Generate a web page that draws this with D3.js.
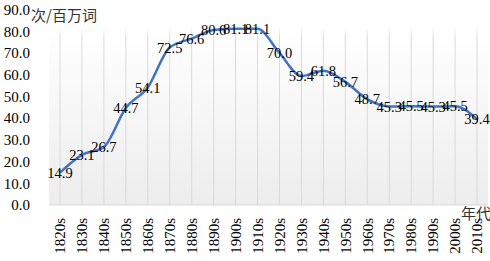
<!DOCTYPE html>
<html><head><meta charset="utf-8">
<script src="https://cdn.jsdelivr.net/npm/d3@7"></script>
<style>body{margin:0;background:#fff}svg{display:block}</style>
</head><body>
<svg id="c" width="490" height="261"></svg>
<script>
const categories = ["1820s","1830s","1840s","1850s","1860s","1870s","1880s","1890s","1900s","1910s","1920s","1930s","1940s","1950s","1960s","1970s","1980s","1990s","2000s","2010s"];
const values = [14.9,23.1,26.7,44.7,54.1,72.5,76.6,80.6,81.1,81.1,70.0,59.4,61.8,56.7,48.7,45.3,45.5,45.3,45.5,39.4];
const yTicks = [0,10,20,30,40,50,60,70,80,90];
const yUnit = "次/百万词";
const xUnit = "年代";

(function(){
const svg = d3.select("#c");
const pl = 49, pr = 488, pt = 9.5, pb = 205;
const x = d3.scaleBand().domain(categories).range([pl, pr]);
const y = d3.scaleLinear().domain([0, 90]).range([pb, pt]);
const serif = "'Liberation Serif','Times New Roman',serif";

const defs = svg.append("defs");
const g = defs.append("linearGradient").attr("id","bg").attr("gradientUnits","userSpaceOnUse")
  .attr("x1",0).attr("y1",y(90)).attr("x2",0).attr("y2",pb);
g.append("stop").attr("offset","0%").attr("stop-color","#ffffff");
g.append("stop").attr("offset","10%").attr("stop-color","#ffffff");
g.append("stop").attr("offset","100%").attr("stop-color","#ededed");
const gg = defs.append("linearGradient").attr("id","gl").attr("gradientUnits","userSpaceOnUse")
  .attr("x1",0).attr("y1",y(90)).attr("x2",0).attr("y2",pb);
gg.append("stop").attr("offset","0%").attr("stop-color","#ffffff");
gg.append("stop").attr("offset","9%").attr("stop-color","#ffffff");
gg.append("stop").attr("offset","14%").attr("stop-color","#dadada");
gg.append("stop").attr("offset","100%").attr("stop-color","#d9d9d9");

svg.append("rect").attr("x", pl).attr("y", y(90)).attr("width", pr-pl).attr("height", pb - y(90)).attr("fill","url(#bg)");

svg.append("g").selectAll("line").data(categories).join("line")
  .attr("x1", d => x(d) + x.bandwidth()/2).attr("x2", d => x(d) + x.bandwidth()/2)
  .attr("y1", y(90)).attr("y2", pb)
  .attr("stroke", "url(#gl)").attr("stroke-width", 1);

svg.append("line").attr("x1", pl).attr("x2", pr).attr("y1", pb).attr("y2", pb).attr("stroke","#d9d9d9");

const yAxis = d3.axisLeft(y).tickValues(yTicks).tickFormat(d3.format(".1f")).tickSize(0).tickPadding(19);
const ya = svg.append("g").attr("transform", `translate(${pl},0)`).call(yAxis);
ya.select(".domain").remove();
ya.selectAll("text").attr("font-family", serif).attr("font-size", 15).attr("fill", "#000");

const xAxis = d3.axisBottom(x).tickSize(0).tickPadding(0);
const xa = svg.append("g").attr("transform", `translate(0,${pb})`).call(xAxis);
xa.select(".domain").remove();
xa.selectAll("text").attr("font-family", serif).attr("font-size", 15).attr("fill", "#000")
  .attr("transform", "rotate(-90)").attr("text-anchor", "end").attr("dy", "0.35em").attr("dx", "-13").attr("y", 0);

const line = d3.line().x((d,i) => x(categories[i]) + x.bandwidth()/2).y(d => y(d)).curve(d3.curveMonotoneX);
svg.append("path").datum(values).attr("d", line).attr("fill","none").attr("stroke","#4472C4").attr("stroke-width", 2.5);

svg.append("g").selectAll("text").data(values).join("text")
  .attr("x", (d,i) => x(categories[i]) + x.bandwidth()/2).attr("y", d => y(d))
  .attr("dy", "0.35em").attr("text-anchor","middle")
  .attr("font-family", serif).attr("font-size", 14.5).attr("fill","#000")
  .text(d => d.toFixed(1));

svg.append("text").attr("x", 31).attr("y", 21).attr("font-family","'Noto Sans CJK SC',sans-serif").attr("font-size", 15).attr("fill","#333").text(yUnit);
svg.append("text").attr("x", 491).attr("y", 219).attr("text-anchor","end").attr("font-family","'Noto Sans CJK SC',sans-serif").attr("font-size", 15).attr("fill","#333").text(xUnit);
})();
</script>
</body></html>
